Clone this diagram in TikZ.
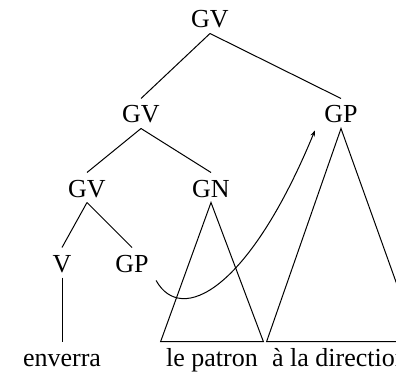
\documentclass[tikz,border=0pt]{standalone}
\usepackage{fontspec}
\setmainfont{Liberation Serif}
\usetikzlibrary{arrows.meta}
\begin{document}
\begin{tikzpicture}
[x=1pt,y=-1pt,line width=1pt,
 every node/.style={anchor=base,inner xsep=2pt,inner ysep=5pt,
   text height=19pt,text depth=0pt,font=\fontsize{26}{30}\selectfont},
 leaf/.style={inner xsep=5pt}]
  \clip (0,0) rectangle (396,374);

  \node (gv1) at (210,28)  {GV};
  \node (gv2) at (141,123) {GV};
  \node (gpr) at (341,123) {GP};
  \node (gv3) at (87,197)  {GV};
  \node (gn)  at (211,197) {GN};
  \node (v)   at (62,272)  {V};
  \node (gps) at (132,272) {GP};

  \node[leaf] (env) at (62,366)  {enverra};
  \node[leaf] (pat) at (212,366) {le patron};
  \node[leaf] (dir) at (340,366) {à la direction};

  \foreach \from/\to in {gv1/gv2,gv1/gpr,gv2/gv3,gv2/gn,gv3/v,gv3/gps,v/env}
    \draw (\from.south) -- (\to.north);

  % triangles
  \draw (gn.south) -- (pat.north west) -- (pat.north east) -- cycle;
  \draw (gpr.south) -- (dir.north west) -- ([xshift=4pt]dir.north east) -- cycle;

  % movement
  \draw[-{Stealth[length=6pt,width=4.5pt]}] ([xshift=5pt,yshift=-3pt]gps.south east)
    .. controls +(25,45) and +(-66,160) .. ([xshift=-7pt,yshift=-2pt]gpr.south west);
\end{tikzpicture}
\end{document}
